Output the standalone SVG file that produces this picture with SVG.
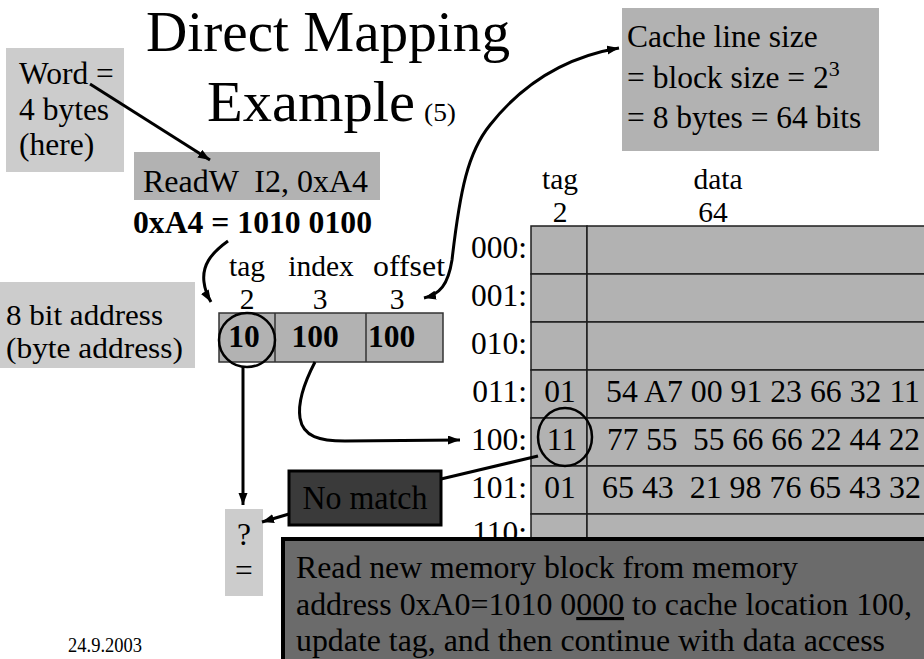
<svg xmlns="http://www.w3.org/2000/svg" width="924" height="659" viewBox="0 0 924 659" font-family="'Liberation Serif','Times New Roman',serif">
<style>
text{font-family:"Liberation Serif","Times New Roman",serif;fill:#000}
.t30{font-size:31.5px}
.t29{font-size:29.5px}
.b30{font-size:31.5px;font-weight:bold}
.lite{fill:#cccccc}
.mid{fill:#b2b2b2}
.cell{fill:#b2b2b2;stroke:#1e1e1e;stroke-width:1.5}
.conn{fill:none;stroke:#000;stroke-width:3}
.ring{fill:none;stroke:#000;stroke-width:2.5}
</style>
<defs>
<marker id="ah" markerUnits="userSpaceOnUse" markerWidth="14" markerHeight="10" refX="12" refY="4.5" orient="auto-start-reverse">
<path d="M0,0 L12,4.5 L0,9 z" fill="#000"/>
</marker>
</defs>
<rect width="924" height="659" fill="#fff"/>

<g id="title">
<text x="146" y="51" font-size="57" textLength="364" lengthAdjust="spacingAndGlyphs">Direct Mapping</text>
<text x="207" y="121" font-size="57" textLength="208" lengthAdjust="spacingAndGlyphs">Example</text>
<text x="424" y="121" font-size="25" textLength="32" lengthAdjust="spacingAndGlyphs">(5)</text>
</g>

<g id="word-note">
<rect class="lite" x="6" y="48" width="118" height="124"/>
<text class="t30" x="19" y="84">Word =</text>
<text class="t30" x="19" y="120">4 bytes</text>
<text class="t30" x="19" y="155">(here)</text>
</g>

<g id="instr">
<rect class="mid" x="134" y="152" width="246" height="48"/>
<text class="t30" x="143" y="192" xml:space="preserve" textLength="225" lengthAdjust="spacingAndGlyphs">ReadW  I2, 0xA4</text>
</g>

<g id="binary">
<text class="b30" x="133" y="233" textLength="239" lengthAdjust="spacingAndGlyphs">0xA4 = 1010 0100</text>
</g>

<g id="cacheline-note">
<rect class="mid" x="622" y="8" width="257" height="143"/>
<text class="t30" x="627" y="47">Cache line size</text>
<text class="t30" x="627" y="88">= block size = 2<tspan font-size="22" dy="-12">3</tspan></text>
<text class="t30" x="627" y="128">= 8 bytes = 64 bits</text>
</g>

<g id="addr-note">
<rect class="lite" x="0" y="282" width="195" height="86"/>
<text class="t29" x="6" y="325" textLength="157" lengthAdjust="spacingAndGlyphs">8 bit address</text>
<text class="t29" x="6" y="358" textLength="177" lengthAdjust="spacingAndGlyphs">(byte address)</text>
</g>

<g id="address">
<text class="t29" x="247" y="276" text-anchor="middle">tag</text>
<text class="t29" x="321" y="276" text-anchor="middle">index</text>
<text class="t29" x="409" y="276" text-anchor="middle" textLength="72" lengthAdjust="spacingAndGlyphs">offset</text>
<text class="t29" x="247" y="309" text-anchor="middle">2</text>
<text class="t29" x="320" y="309" text-anchor="middle">3</text>
<text class="t29" x="397" y="309" text-anchor="middle">3</text>
<rect x="219" y="313" width="224" height="49" fill="#b2b2b2" stroke="#333" stroke-width="1.5"/>
<line x1="275" y1="313" x2="275" y2="362" stroke="#333" stroke-width="1.5"/>
<line x1="366" y1="313" x2="366" y2="362" stroke="#333" stroke-width="1.5"/>
<text class="b30" x="244" y="347" text-anchor="middle">10</text>
<text class="b30" x="315" y="347" text-anchor="middle">100</text>
<text class="b30" x="368" y="347">100</text>
<ellipse class="ring" cx="247" cy="340" rx="28" ry="27"/>
</g>

<g id="cache">
<text class="t29" x="560" y="189" text-anchor="middle">tag</text>
<text class="t29" x="560" y="222" text-anchor="middle">2</text>
<text class="t29" x="718" y="189" text-anchor="middle">data</text>
<text class="t29" x="713" y="222" text-anchor="middle">64</text>
<rect class="cell" x="531" y="226" width="56" height="48"/><rect class="cell" x="587" y="226" width="345" height="48"/>
<rect class="cell" x="531" y="274" width="56" height="48"/><rect class="cell" x="587" y="274" width="345" height="48"/>
<rect class="cell" x="531" y="322" width="56" height="48"/><rect class="cell" x="587" y="322" width="345" height="48"/>
<rect class="cell" x="531" y="370" width="56" height="48"/><rect class="cell" x="587" y="370" width="345" height="48"/>
<rect class="cell" x="531" y="418" width="56" height="48"/><rect class="cell" x="587" y="418" width="345" height="48"/>
<rect class="cell" x="531" y="466" width="56" height="48"/><rect class="cell" x="587" y="466" width="345" height="48"/>
<rect class="cell" x="531" y="514" width="56" height="48"/><rect class="cell" x="587" y="514" width="345" height="48"/>
<text class="t30" x="527" y="258" text-anchor="end">000:</text>
<text class="t30" x="527" y="306" text-anchor="end">001:</text>
<text class="t30" x="527" y="354" text-anchor="end">010:</text>
<text class="t30" x="527" y="402" text-anchor="end">011:</text>
<text class="t30" x="527" y="450" text-anchor="end">100:</text>
<text class="t30" x="527" y="498" text-anchor="end">101:</text>
<text class="t30" x="527" y="543" text-anchor="end" font-size="30">110:</text>
<text class="t30" x="560" y="402" text-anchor="middle">01</text>
<text class="t30" x="562" y="450" text-anchor="middle">11</text>
<text class="t30" x="560" y="498" text-anchor="middle">01</text>
<text class="t30" x="606" y="402" textLength="314" lengthAdjust="spacingAndGlyphs">54 A7 00 91 23 66 32 11</text>
<text class="t30" x="607" y="450" xml:space="preserve" textLength="313" lengthAdjust="spacingAndGlyphs">77 55  55 66 66 22 44 22</text>
<text class="t30" x="602" y="498" xml:space="preserve" textLength="319" lengthAdjust="spacingAndGlyphs">65 43  21 98 76 65 43 32</text>
<ellipse class="ring" cx="565" cy="437" rx="27" ry="29"/>
</g>

<g id="nomatch">
<rect x="289" y="471" width="152" height="54" fill="#3a3a3a" stroke="#000" stroke-width="3"/>
<text x="365" y="509" font-size="33" text-anchor="middle" textLength="125" lengthAdjust="spacingAndGlyphs">No match</text>
</g>

<g id="compare">
<rect class="lite" x="225" y="509" width="38" height="87"/>
<text class="t30" x="244" y="545" text-anchor="middle">?</text>
<text class="t30" x="244" y="581" text-anchor="middle">=</text>
</g>

<g id="connectors">
<line class="conn" x1="90" y1="84" x2="210" y2="160" stroke-width="2.5" marker-end="url(#ah)"/>
<path class="conn" d="M228,241 C210,254 202,266 204,282 C205,291 208,297 211,302" marker-end="url(#ah)"/>
<path class="conn" d="M424,298 C440,294 448,285 452,260 C460,190 468,152 490,125 C520,87 560,58 619,48" stroke-width="2.5" marker-start="url(#ah)" marker-end="url(#ah)"/>
<path class="conn" d="M315,362 C303,385 298,405 300,418 C303,437 320,441 345,441 L460,440" marker-end="url(#ah)"/>
<line class="conn" x1="243" y1="367" x2="243" y2="505" marker-end="url(#ah)"/>
<line class="conn" x1="538" y1="456" x2="441" y2="479"/>
<line class="conn" x1="289" y1="514" x2="262" y2="522" marker-end="url(#ah)"/>
</g>

<g id="action-note">
<rect x="283" y="539" width="645" height="125" fill="#6b6b6b" stroke="#000" stroke-width="4"/>
<text x="296" y="578" font-size="31.5" textLength="502" lengthAdjust="spacingAndGlyphs">Read new memory block from memory</text>
<text x="296" y="615" font-size="31.5" textLength="616" lengthAdjust="spacingAndGlyphs">address 0xA0=1010 0<tspan text-decoration="underline">000</tspan> to cache location 100,</text>
<text x="296" y="651" font-size="31.5" textLength="589" lengthAdjust="spacingAndGlyphs">update tag, and then continue with data access</text>
</g>

<g id="footer">
<text x="68" y="652" font-size="20" textLength="74" lengthAdjust="spacingAndGlyphs">24.9.2003</text>
</g>
</svg>
